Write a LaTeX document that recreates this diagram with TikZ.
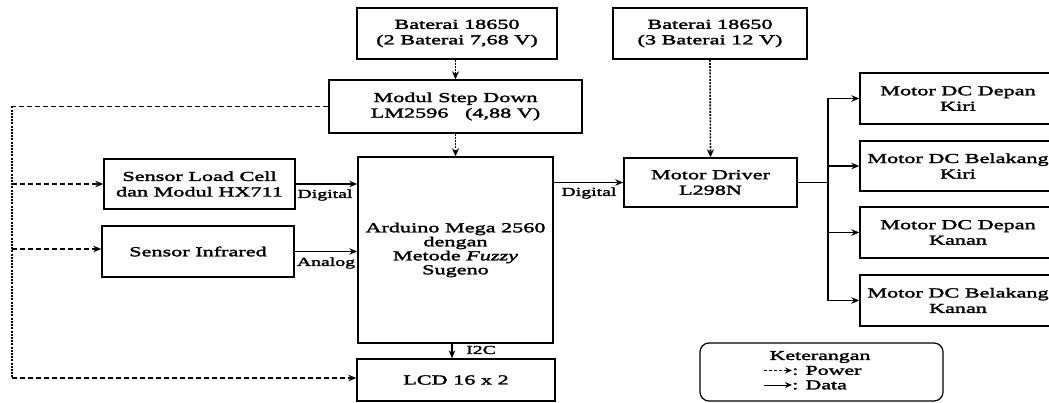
\documentclass[tikz,border=0pt]{standalone}
\usepackage{fontspec}
\setmainfont{Liberation Serif}[FakeStretch=1.62, FakeBold=2.2]
\usetikzlibrary{arrows.meta,calc}
\begin{document}
\begin{tikzpicture}[x=1pt,y=-1pt,
  box/.style={draw, line width=1.4pt, inner sep=0pt, align=center, font=\fontsize{13.7}{15.5}\selectfont},
  data/.style={line width=1.1pt, -{Stealth[length=8pt,width=6.5pt]}},
  pw/.style={line width=1.1pt, dash pattern=on 5pt off 3pt, -{Stealth[length=8pt,width=6.5pt]}},
  pwline/.style={line width=1.1pt, dash pattern=on 5pt off 3pt},
  pwdense/.style={line width=1.4pt, dash pattern=on 2pt off 1.2pt},
  pwv/.style={line width=1.6pt, dash pattern=on 2pt off 1.2pt, -{Stealth[length=8pt,width=7pt]}},
  lbl/.style={font=\fontsize{12.2}{14}\selectfont, inner sep=0pt}]
\useasboundingbox (0,0) rectangle (1049,403);

\node[box, minimum width=200pt, minimum height=51pt] (batA) at (457,33.5) {Baterai 18650\\(2 Baterai 7,68 V)};
\node[box, minimum width=194pt, minimum height=51pt] (batB) at (710,33.5) {Baterai 18650\\(3 Baterai 12 V)};
\node[box, minimum width=253pt, minimum height=53pt] (step) at (455.5,106.5) {Modul Step Down\\LM2596\ \ \ (4,88 V)};
\node[box, minimum width=195pt, minimum height=186pt, font=\fontsize{13.7}{14}\selectfont] (ard) at (455.5,250) {Arduino Mega 2560\\dengan\\Metode \textit{Fuzzy}\\Sugeno};
\node[box, minimum width=198pt, minimum height=42pt] (lcd) at (456,380) {LCD 16 x 2};
\node[box, minimum width=191pt, minimum height=50pt] (load) at (199.5,184) {Sensor Load Cell\\dan Modul HX711};
\node[box, minimum width=192pt, minimum height=51pt] (ir) at (198,251.5) {Sensor Infrared};
\node[box, minimum width=173pt, minimum height=49pt] (drv) at (710.5,182.5) {Motor Driver\\L298N};
\node[box, minimum width=196pt, minimum height=51pt] (m1) at (958,98.5) {Motor DC Depan\\Kiri};
\node[box, minimum width=196pt, minimum height=50pt] (m2) at (958,166) {Motor DC Belakang\\Kiri};
\node[box, minimum width=196pt, minimum height=51pt] (m3) at (958,232.5) {Motor DC Depan\\Kanan};
\node[box, minimum width=196pt, minimum height=51pt] (m4) at (958,300.5) {Motor DC Belakang\\Kanan};

% power from batteries
\draw[pwv] (batA.south -| ard.center) -- (step.north -| ard.center);
\draw[pwv] (step.south -| ard.center) -- (ard.north -| ard.center);
\draw[pwv] (batB.south) -- (drv.north);

% left power bus
\coordinate (c1) at (12,106.5);
\coordinate (c4) at (12,378);
\draw[pwline] (step.west) -- (c1);
\draw[pwdense] (c1) -- (c4);
\draw[pw] (c1 |- load.west) -- (load.west);
\draw[pw] (12,249) -- (12,249 -| ir.west);
\draw[pw] (c4) -- (c4 -| lcd.west);

% data
\draw[data] (load.east) -- (load.east -| ard.west);
\draw[data] (ir.east) -- (ir.east -| ard.west);
\draw[data] (ard.south -| 452,0) -- (lcd.north -| 452,0);
\draw[data] (ard.east |- drv.west) -- (drv.west);

\node[lbl] (l1) at (325,195) {Digital};
\node[lbl] (l2) at (326,263) {Analog};
\node[lbl] (l3) at (481,350) {I2C};
\node[lbl] (l4) at (589,193) {Digital};

% motor bus
\coordinate (b0) at (828,182.5);
\draw[line width=1.3pt] (drv.east) -- (b0);
\draw[line width=1.4pt] (b0 |- m1.west) -- (b0 |- m4.west);
\draw[data] (b0 |- m1.west) -- (m1.west);
\draw[data] (b0 |- m2.west) -- (m2.west);
\draw[data] (b0 |- m3.west) -- (m3.west);
\draw[data] (b0 |- m4.west) -- (m4.west);

% legend
\node[draw, rounded corners=9pt, line width=1.2pt, minimum width=243pt, minimum height=58pt] (leg) at (821.5,372) {};
\node[lbl, font=\fontsize{13.5}{14}\selectfont] (legt) at (820,357) {Keterangan};
\node[lbl, font=\fontsize{13.5}{14}\selectfont, anchor=west] (legp) at (792,370.5) {: Power};
\node[lbl, font=\fontsize{13.5}{14}\selectfont, anchor=west] (legd) at (792,385) {: Data};
\coordinate (lp0) at (764,370.5);
\coordinate (ld0) at (764,385);
\draw[line width=0.9pt, dash pattern=on 3pt off 2pt, -{Stealth[length=7pt,width=6pt]}] (lp0) -- (legp.west);
\draw[line width=0.9pt, -{Stealth[length=7pt,width=6pt]}] (ld0) -- (legd.west);
\end{tikzpicture}
\end{document}
